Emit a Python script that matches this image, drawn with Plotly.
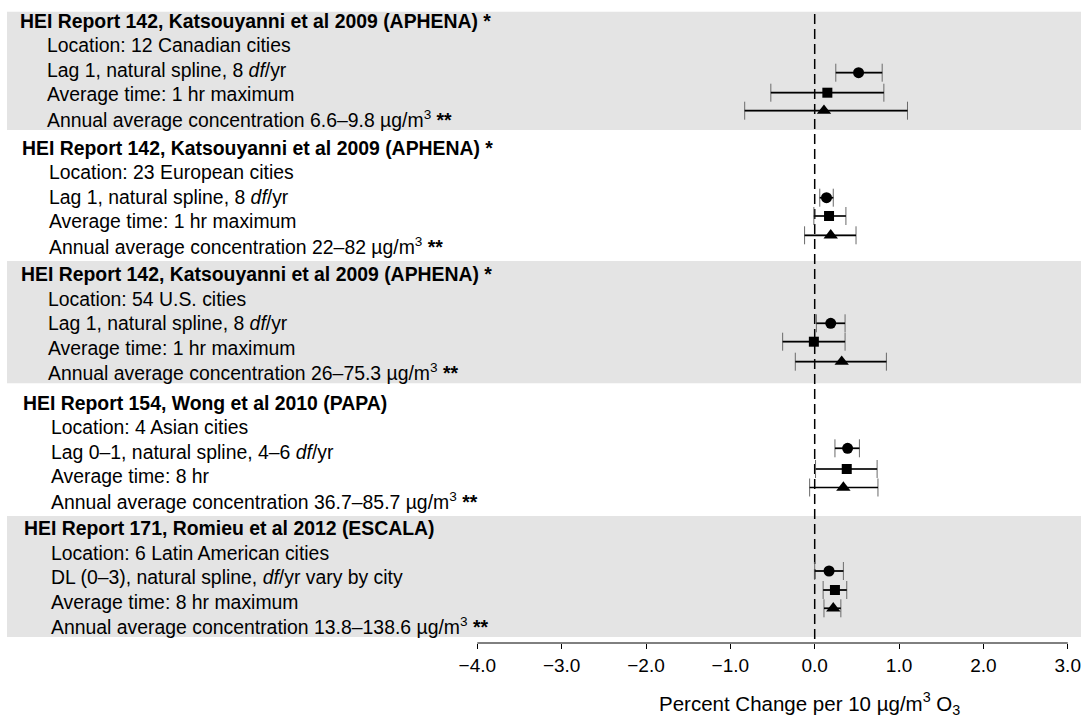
import plotly.graph_objects as go

# Study blocks: heading and the four descriptive lines under it
titles = [
    "HEI Report 142, Katsouyanni et al 2009 (APHENA) *",
    "HEI Report 142, Katsouyanni et al 2009 (APHENA) *",
    "HEI Report 142, Katsouyanni et al 2009 (APHENA) *",
    "HEI Report 154, Wong et al 2010 (PAPA)",
    "HEI Report 171, Romieu et al 2012 (ESCALA)",
]
locations = [
    "Location: 12 Canadian cities",
    "Location: 23 European cities",
    "Location: 54 U.S. cities",
    "Location: 4 Asian cities",
    "Location: 6 Latin American cities",
]
models = [
    "Lag 1, natural spline, 8 <i>df</i>/yr",
    "Lag 1, natural spline, 8 <i>df</i>/yr",
    "Lag 1, natural spline, 8 <i>df</i>/yr",
    "Lag 0–1, natural spline, 4–6 <i>df</i>/yr",
    "DL (0–3), natural spline, <i>df</i>/yr vary by city",
]
averaging = [
    "Average time: 1 hr maximum",
    "Average time: 1 hr maximum",
    "Average time: 1 hr maximum",
    "Average time: 8 hr",
    "Average time: 8 hr maximum",
]
concentrations = ["6.6–9.8", "22–82", "26–75.3", "36.7–85.7", "13.8–138.6"]

# Percent change per 10 ug/m3 O3 with 95% confidence limits
circle_est = [0.52, 0.14, 0.19, 0.39, 0.17]
circle_lo = [0.25, 0.06, 0.02, 0.24, 0.00]
circle_hi = [0.80, 0.22, 0.36, 0.53, 0.34]

square_est = [0.15, 0.17, -0.01, 0.38, 0.24]
square_lo = [-0.52, -0.01, -0.38, 0.01, 0.10]
square_hi = [0.82, 0.37, 0.36, 0.74, 0.38]

triangle_est = [0.11, 0.19, 0.32, 0.34, 0.22]
triangle_lo = [-0.83, -0.12, -0.23, -0.06, 0.11]
triangle_hi = [1.10, 0.49, 0.85, 0.75, 0.31]

tick_vals = [-4, -3, -2, -1, 0, 1, 2, 3]
tick_text = ["−4.0", "−3.0", "−2.0", "−1.0", "0.0", "1.0", "2.0", "3.0"]

# ---- layout geometry (pixels; the y axis is laid out in pixel units) ----
W, H = 1081, 719
AXIS_Y = 643
PX0, PX_PER_UNIT = 814.7, 84.35
x_range = [(0 - PX0) / PX_PER_UNIT, (W - PX0) / PX_PER_UNIT]

band_edges = [11.7, 130, 261, 383.3, 516, 637]
shaded = [True, False, True, False, True]
title_y = [20.7, 147.7, 274, 402.7, 528]
title_x = [18, 20, 19, 21, 22]
detail_x = [45, 47, 46, 49, 49]
LINE_STEP = 24.5
marker_rows = [
    [72.7, 92.7, 110.7],
    [197.7, 216, 235.3],
    [323.3, 341.7, 361.7],
    [448.3, 469, 487.5],
    [571, 590, 608.3],
]

FONT = "Liberation Sans, Arial, Helvetica, sans-serif"
TXT = 19.4

fig = go.Figure()

series = [
    ("circle", 11, circle_est, circle_lo, circle_hi),
    ("square", 10, square_est, square_lo, square_hi),
    ("triangle-up", 12.5, triangle_est, triangle_lo, triangle_hi),
]

for k, (symbol, size, est, lo, hi) in enumerate(series):
    ys = [rows[k] for rows in marker_rows]
    # thin grey whiskers with end caps
    fig.add_trace(go.Scatter(
        x=est, y=ys, mode="markers",
        marker=dict(size=1, color="rgba(0,0,0,0)"),
        error_x=dict(type="data", symmetric=False,
                     array=[h - e for h, e in zip(hi, est)],
                     arrayminus=[e - l for e, l in zip(est, lo)],
                     color="#6a6a6a", thickness=1, width=9),
        hoverinfo="skip", showlegend=False,
    ))
    # solid black interval line
    seg_x, seg_y = [], []
    for l, h, y in zip(lo, hi, ys):
        seg_x += [l, h, None]
        seg_y += [y, y, None]
    fig.add_trace(go.Scatter(
        x=seg_x, y=seg_y, mode="lines",
        line=dict(color="black", width=1.7),
        hoverinfo="skip", showlegend=False,
    ))
    # point estimate
    fig.add_trace(go.Scatter(
        x=est, y=ys, mode="markers",
        marker=dict(symbol=symbol, size=size, color="black",
                    line=dict(width=0)),
        showlegend=False,
    ))

shapes = []
for i in range(5):
    if shaded[i]:
        shapes.append(dict(
            type="rect", layer="below", xref="paper", yref="y",
            x0=7 / W, x1=1, y0=band_edges[i], y1=band_edges[i + 1],
            fillcolor="#e4e4e4", line=dict(width=0),
        ))
# reference line at zero
shapes.append(dict(
    type="line", layer="below", xref="x", yref="y",
    x0=0, x1=0, y0=14, y1=AXIS_Y,
    line=dict(color="black", width=1.5, dash="10px,5px"),
))
# axis line spanning the tick range
shapes.append(dict(
    type="line", xref="x", yref="paper",
    x0=tick_vals[0], x1=tick_vals[-1], y0=0, y1=0,
    line=dict(color="black", width=1),
))

annotations = []
for i in range(5):
    annotations.append(dict(
        text="<b>" + titles[i] + "</b>", xref="paper", yref="y",
        x=title_x[i] / W, y=title_y[i], xanchor="left", yanchor="middle",
        showarrow=False, font=dict(family=FONT, size=TXT, color="black"),
    ))
    lines = [
        locations[i], models[i], averaging[i],
        "Annual average concentration " + concentrations[i]
        + " µg/m<sup>3</sup> <b>**</b>",
    ]
    for j, t in enumerate(lines):
        annotations.append(dict(
            text=t, xref="paper", yref="y",
            x=detail_x[i] / W, y=title_y[i] + LINE_STEP * (j + 1),
            xanchor="left", yanchor="middle", showarrow=False,
            font=dict(family=FONT, size=TXT, color="black"),
        ))

annotations.append(dict(
    text="Percent Change per 10 µg/m<sup>3</sup> O<sub>3</sub>",
    xref="x", yref="paper", x=-0.06, y=(AXIS_Y - 703) / AXIS_Y,
    xanchor="center", yanchor="middle", showarrow=False,
    font=dict(family=FONT, size=20.5, color="black"),
))

fig.update_layout(
    width=W, height=H,
    margin=dict(l=0, r=0, t=0, b=H - AXIS_Y, pad=0),
    paper_bgcolor="white", plot_bgcolor="white",
    shapes=shapes, annotations=annotations,
    showlegend=False,
    xaxis=dict(
        range=x_range, tickmode="array", tickvals=tick_vals,
        ticktext=tick_text, ticks="outside", ticklen=5, tickwidth=1,
        tickcolor="black", showgrid=False, zeroline=False, showline=False,
        tickfont=dict(family=FONT, size=19, color="black"),
        fixedrange=True,
    ),
    yaxis=dict(
        range=[AXIS_Y, 0], visible=False, showgrid=False, zeroline=False,
        fixedrange=True,
    ),
)

fig.write_html("out.html")
